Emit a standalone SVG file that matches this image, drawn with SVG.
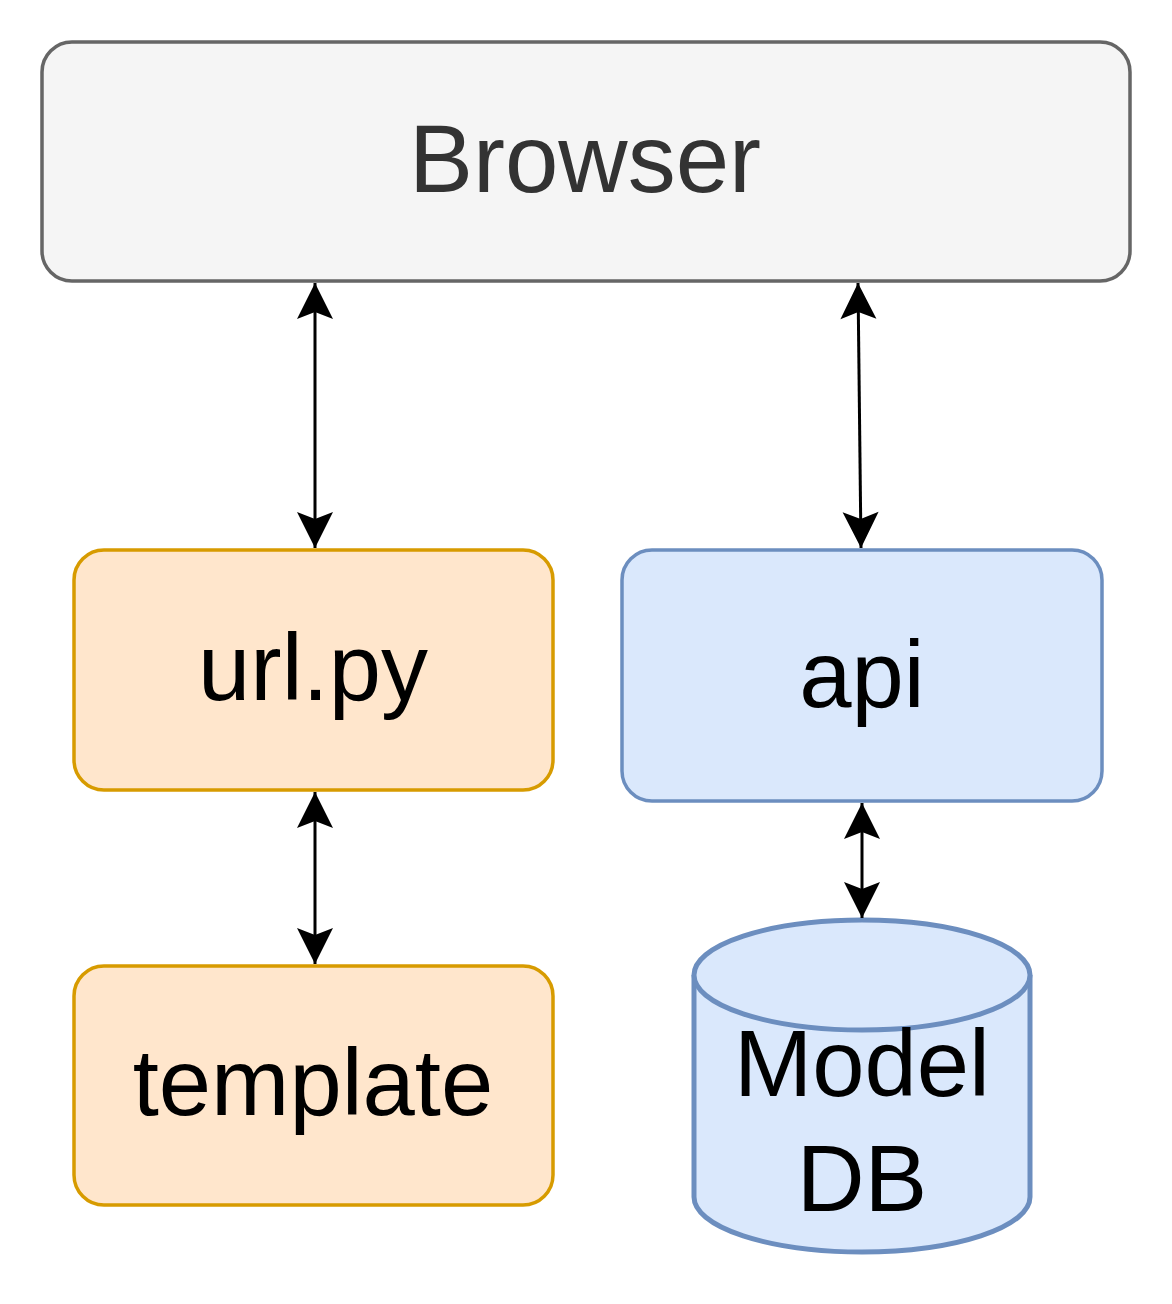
<svg xmlns="http://www.w3.org/2000/svg" width="1172" height="1304" viewBox="0 0 1172 1304">
<style>
.lbl{font-family:"Liberation Sans",Arial,Helvetica,sans-serif;font-size:94px;text-anchor:middle;fill:#000}
.orange{fill:#ffe6cc;stroke:#d79b00;stroke-width:3.5}
.blue{fill:#dae8fc;stroke:#6c8ebf;stroke-width:3.5}
.conn{stroke:#000;stroke-width:3;fill:none;marker-start:url(#ah);marker-end:url(#ah)}
</style>
<defs>
<marker id="ah" viewBox="0 0 40 40" refX="38" refY="20" markerWidth="40" markerHeight="40" markerUnits="userSpaceOnUse" orient="auto-start-reverse">
<path d="M38,20 L2,2 L9,20 L2,38 Z" fill="#000"/>
</marker>
</defs>
<g id="browser">
<rect x="42" y="42" width="1088" height="239" rx="30" ry="30" fill="#f5f5f5" stroke="#666666" stroke-width="3.5"/>
<text class="lbl" x="585" y="192" style="fill:#333333;font-size:96px">Browser</text>
</g>
<g id="urlpy">
<rect class="orange" x="74" y="550" width="479" height="240" rx="30" ry="30"/>
<text class="lbl" x="313" y="700">url.py</text>
</g>
<g id="template">
<rect class="orange" x="74" y="966" width="479" height="239" rx="30" ry="30"/>
<text class="lbl" x="313" y="1115">template</text>
</g>
<g id="api">
<rect class="blue" x="622" y="550" width="480" height="251" rx="30" ry="30"/>
<text class="lbl" x="862" y="707">api</text>
</g>
<g id="modeldb">
<path d="M694,975 L694,1197 A168,55 0 0 0 1030,1197 L1030,975" fill="#dae8fc" stroke="#6c8ebf" stroke-width="5"/>
<ellipse cx="862" cy="975" rx="168" ry="55" fill="#dae8fc" stroke="#6c8ebf" stroke-width="5"/>
<text class="lbl" x="862" y="1096">Model</text>
<text class="lbl" x="862" y="1211">DB</text>
</g>
<g id="connectors">
<line class="conn" x1="315" y1="283" x2="315" y2="548"/>
<line class="conn" x1="858" y1="283" x2="861" y2="548"/>
<line class="conn" x1="315" y1="792" x2="315" y2="964"/>
<line class="conn" x1="862" y1="803" x2="862" y2="918"/>
</g>
</svg>
